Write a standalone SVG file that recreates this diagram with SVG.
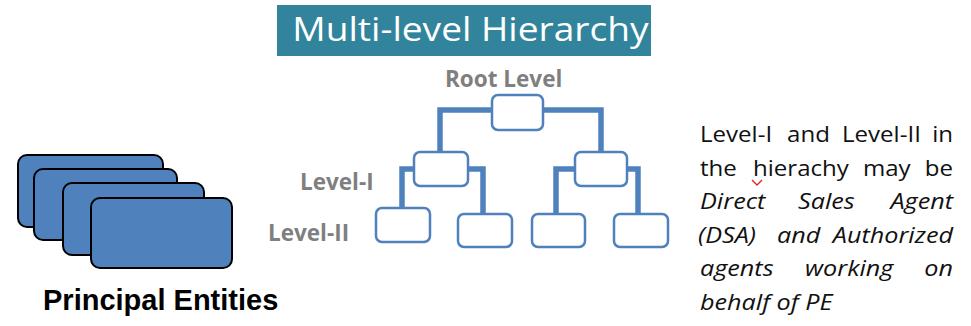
<svg xmlns="http://www.w3.org/2000/svg" width="971" height="326" viewBox="0 0 971 326">
<style>
.lvl{font-family:"Open Sans","Noto Sans",sans-serif;font-weight:bold;font-size:22.5px;fill:#7f7f7f}
.hbox{fill:#fff;stroke:#4f81bd;stroke-width:2.5}
.pe{fill:#4f81bd;stroke:#000;stroke-width:2}
.conn{fill:none;stroke:#4f81bd;stroke-width:5.5;stroke-linejoin:miter}
.body{font-family:"Open Sans","Noto Sans",sans-serif;font-size:21.5px;fill:#111}
.it{font-style:italic;font-size:22.5px}
</style>
<rect width="971" height="326" fill="#fff"/>
<g id="title">
<rect x="277" y="5" width="374" height="51" fill="#31849b"/>
<text x="470.5" y="41" text-anchor="middle" transform="translate(470.5,0) scale(1.16,1) translate(-470.5,0)" font-family="Open Sans, Noto Sans, sans-serif" font-size="32" fill="#fff">Multi-level Hierarchy</text>
</g>
<g id="principal-entities">
<rect class="pe" x="18" y="155" width="145" height="72" rx="9"/>
<rect class="pe" x="34" y="169" width="143" height="71" rx="9"/>
<rect class="pe" x="63" y="183" width="141" height="72" rx="9"/>
<rect class="pe" x="91" y="198" width="141" height="70" rx="9"/>
<text x="43" y="310" font-family="Liberation Sans, Arial, sans-serif" font-weight="bold" font-size="29" fill="#000">Principal Entities</text>
</g>
<g id="labels">
<text class="lvl" x="445" y="87">Root Level</text>
<text class="lvl" x="300" y="190">Level-I</text>
<text class="lvl" x="268" y="241">Level-II</text>
</g>
<g id="connectors">
<path class="conn" d="M440,152 V110 H601 V152"/>
<path class="conn" d="M414,169 H402 V208"/>
<path class="conn" d="M468,169 H483 V214"/>
<path class="conn" d="M575,169 H556 V214"/>
<path class="conn" d="M627,169 H638 V214"/>
</g>
<g id="root"><rect class="hbox" x="492" y="95" width="51" height="35" rx="6"/></g>
<g id="level1-left"><rect class="hbox" x="414" y="152" width="54" height="34" rx="6"/></g>
<g id="level1-right"><rect class="hbox" x="575" y="152" width="52" height="34" rx="6"/></g>
<g id="level2-1"><rect class="hbox" x="376" y="208" width="54" height="34" rx="6"/></g>
<g id="level2-2"><rect class="hbox" x="458" y="214" width="54" height="33" rx="6"/></g>
<g id="level2-3"><rect class="hbox" x="532" y="214" width="53" height="33" rx="6"/></g>
<g id="level2-4"><rect class="hbox" x="614" y="214" width="54" height="33" rx="6"/></g>
<g id="description">
<path d="M752,180 L757,185 L762,180" fill="none" stroke="#e02020" stroke-width="1.3"/>
<g transform="translate(700,0) scale(1.12,1) translate(-700,0)">
<text class="body" y="142"><tspan x="700">Level-I</tspan><tspan x="777.7">and</tspan><tspan x="826.8">Level-II</tspan></text>
<text class="body" x="925.9" y="142" text-anchor="end">in</text>
<text class="body" y="175.6"><tspan x="700">the</tspan><tspan x="747.3">hierachy</tspan><tspan x="845.5">may</tspan></text>
<text class="body" x="925.9" y="175.6" text-anchor="end">be</text>
<text class="body it" y="209.2"><tspan x="700">Direct</tspan><tspan x="787.5">Sales</tspan></text>
<text class="body it" x="925.9" y="209.2" text-anchor="end">Agent</text>
<text class="body it" y="242.8"><tspan x="698.2">(DSA)</tspan><tspan x="768.8">and</tspan></text>
<text class="body it" x="925.9" y="242.8" text-anchor="end">Authorized</text>
<text class="body it" y="276.4"><tspan x="700">agents</tspan><tspan x="793.8">working</tspan></text>
<text class="body it" x="925.9" y="276.4" text-anchor="end">on</text>
<text class="body it" x="700" y="310">behalf of PE</text>
</g>
</g>
</svg>
